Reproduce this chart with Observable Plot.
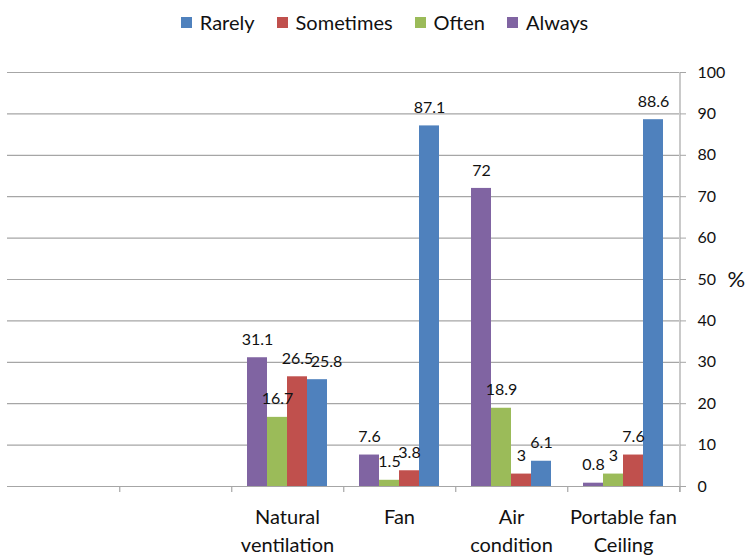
<!DOCTYPE html>
<html>
<head>
<meta charset="utf-8">
<script src="https://cdn.jsdelivr.net/npm/d3@7"></script>
<script src="https://cdn.jsdelivr.net/npm/@observablehq/plot@0.6"></script>
<style>
  html, body { margin: 0; padding: 0; background: #fff; }
  #chart { width: 747px; height: 558px; overflow: hidden; font-family: Lato, sans-serif; }
  .lg-swatches { font-family: Lato, sans-serif !important; font-size: 20px !important; color: #111;
    display: flex !important; justify-content: center !important; align-items: center !important;
    height: 44px !important; min-height: 44px !important; margin: 0 !important; padding-left: 44px; box-sizing: border-box; }
  .lg-swatch { margin-right: 22px !important; }
  .lg-swatch > svg { margin-right: 8px !important; }
</style>
</head>
<body>
<div id="chart"></div>
<script>
const categories = ["c0", "c1", "Natural ventilation", "Fan", "Air condition", "Portable fan Ceiling"];
const categoryLabels = ["", "", "Natural\nventilation", "Fan", "Air\ncondition", "Portable fan\nCeiling"];
const seriesNames = ["Rarely", "Sometimes", "Often", "Always"];
const barOrder = ["Always", "Often", "Sometimes", "Rarely"];
const seriesColors = ["#4F81BD", "#C0504D", "#9BBB59", "#8064A2"];
const rarely    = [null, null, 25.8, 87.1, 6.1, 88.6];
const sometimes = [null, null, 26.5, 3.8, 3, 7.6];
const often     = [null, null, 16.7, 1.5, 18.9, 3];
const always    = [null, null, 31.1, 7.6, 72, 0.8];
const yTicks = [0, 10, 20, 30, 40, 50, 60, 70, 80, 90, 100];
const yLabel = "%";

const valuesBySeries = {Rarely: rarely, Sometimes: sometimes, Often: often, Always: always};
const data = [];
categories.forEach((c, i) => {
  seriesNames.forEach(s => {
    const v = valuesBySeries[s][i];
    if (v != null) data.push({cat: c, series: s, value: v});
  });
});
const gridData = categories.flatMap(c => yTicks.map(t => ({cat: c, t})));
const labelOf = new Map(categories.map((c, i) => [c, categoryLabels[i]]));

// Excel nudged one crowded label to the right
const nudged = d => d.cat === "Natural ventilation" && d.series === "Rarely";
const W = 747, H = 514;
const mL = 5, mR = 67;
const step = (W - mL - mR) / categories.length;

const labelOpts = {fx: "cat", x: "series", y: "value", text: d => String(d.value), dy: -18, lineAnchor: "middle", fontSize: 16, fill: "#111"};

const chart = Plot.plot({
  width: W,
  height: H,
  marginLeft: mL,
  marginRight: mR,
  marginTop: 28,
  marginBottom: 72,
  style: {fontFamily: "Lato, sans-serif", fontSize: "16px", color: "#111", background: "#fff"},
  fx: {domain: categories, padding: 0, axis: null, label: null},
  x: {domain: barOrder, paddingInner: 0, paddingOuter: 0.78, axis: null},
  y: {domain: [0, 100], axis: null},
  color: {domain: seriesNames, range: seriesColors},
  marks: [
    Plot.ruleY(gridData, {fx: "cat", y: "t", stroke: "#a6a6a6", strokeWidth: 1.2}),
    Plot.axisFx({anchor: "bottom", tickSize: 6, dx: step / 2, text: null, stroke: "#a6a6a6", strokeOpacity: 1, strokeWidth: 1.2}),
    Plot.axisFx({anchor: "bottom", tickSize: 0, tickPadding: 18, fontSize: 20, lineHeight: 1.4, tickFormat: d => labelOf.get(d), fill: "#111"}),
    Plot.axisY({anchor: "right", ticks: yTicks, tickSize: 6, tickPadding: 12, fontSize: 16, label: null, stroke: "#a6a6a6", strokeOpacity: 1, fill: "#111"}),
    Plot.barY(data, {fx: "cat", x: "series", y: "value", fill: "series"}),
    Plot.text(data.filter(d => !nudged(d)), labelOpts),
    Plot.text(data.filter(nudged), {...labelOpts, dx: 9}),
    Plot.text([{cat: categories[categories.length - 1], v: 50}], {fx: "cat", y: "v", text: () => yLabel, frameAnchor: "right", dx: 57, textAnchor: "start", dx: 48, fontSize: 22, fill: "#111"})
  ]
});

const legend = chart.legend("color", {swatchSize: 11, className: "lg"});
const root = document.getElementById("chart");
root.appendChild(legend);
root.appendChild(chart);

// vertical axis line at the right edge of the frame, from the y scale
const ys = chart.scale("y");
const svg = d3.select(chart);
svg.append("line")
  .attr("x1", W - mR).attr("x2", W - mR)
  .attr("y1", ys.apply(100)).attr("y2", ys.apply(0) + 6)
  .attr("stroke", "#a6a6a6").attr("stroke-width", 1.2);
</script>
</body>
</html>
